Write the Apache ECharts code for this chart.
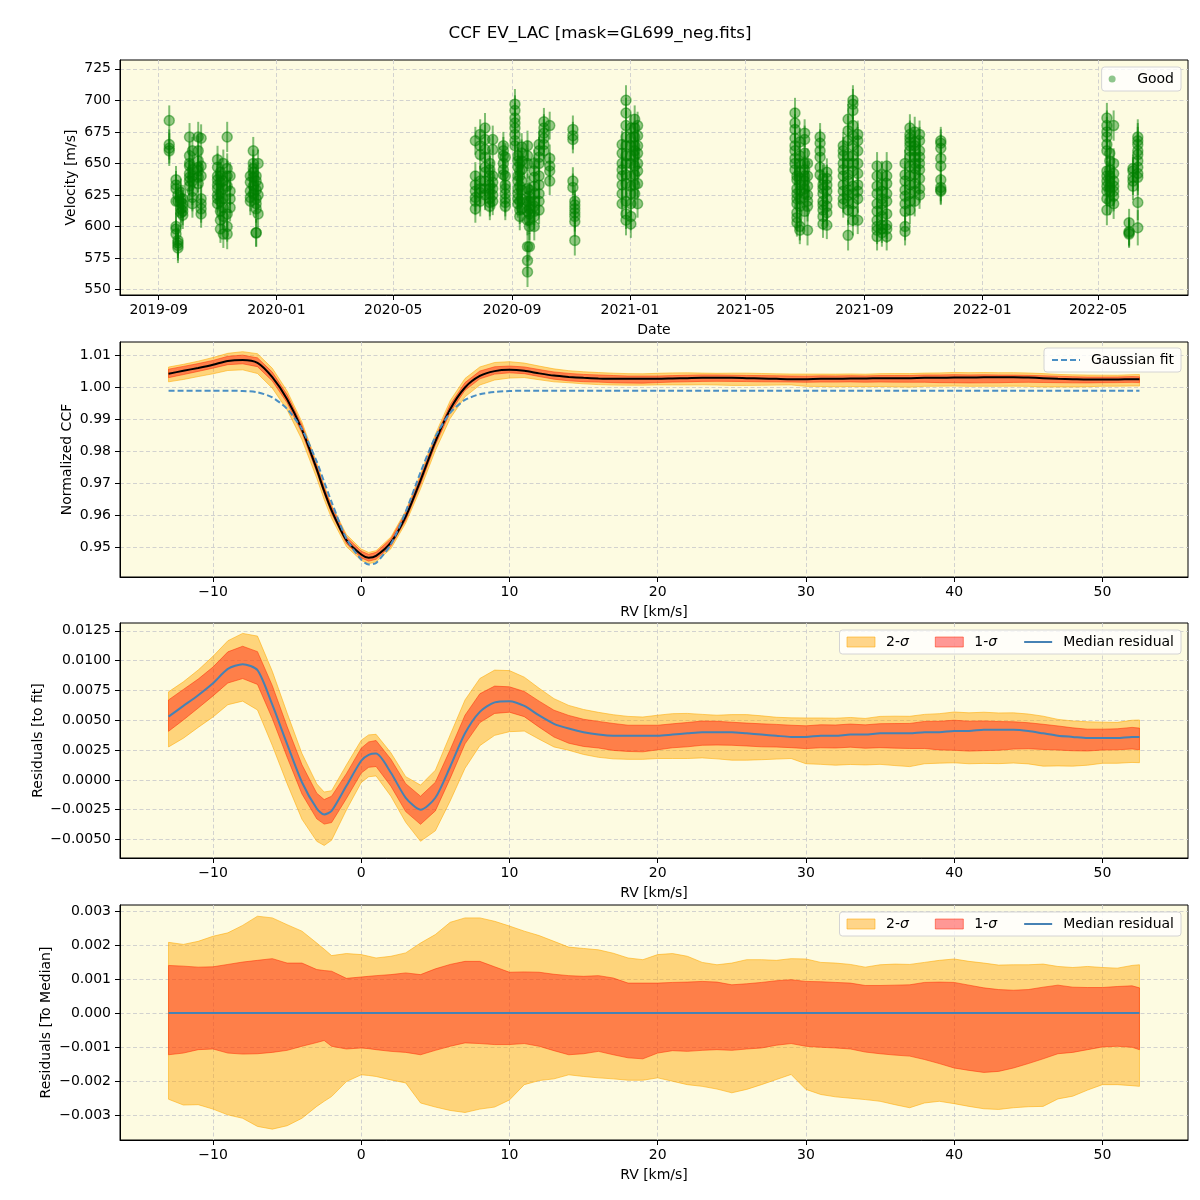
<!DOCTYPE html>
<html><head><meta charset="utf-8">
<script src="https://cdn.jsdelivr.net/npm/echarts@6/dist/echarts.min.js"></script>
<style>html,body{margin:0;padding:0;background:#fff}#c{width:1200px;height:1200px}</style>
</head><body><div id="c"></div>
<script>
// ---------- Panel 1: velocities per night ----------
const nightDates = [
 '2019-09-12','2019-09-19','2019-09-21','2019-09-24','2019-09-26','2019-10-03','2019-10-06','2019-10-12','2019-10-15',
 '2019-11-01','2019-11-04','2019-11-07','2019-11-11','2019-11-14','2019-12-05','2019-12-08','2019-12-11','2019-12-13',
 '2020-07-25','2020-07-30','2020-08-04','2020-08-09','2020-08-12','2020-08-23','2020-08-25','2020-09-04','2020-09-07',
 '2020-09-09','2020-09-11','2020-09-17','2020-09-19','2020-09-24','2020-09-29','2020-10-04','2020-10-10','2020-11-03',
 '2020-11-05','2020-12-24','2020-12-28','2021-01-02','2021-01-06','2021-01-09',
 '2021-06-21','2021-06-23','2021-06-26','2021-07-01','2021-07-04','2021-07-17','2021-07-20','2021-07-24','2021-08-10',
 '2021-08-15','2021-08-20','2021-08-25','2021-09-14','2021-09-19','2021-09-24','2021-10-13','2021-10-18','2021-10-23',
 '2021-10-28','2021-11-19',
 '2022-05-10','2022-05-13','2022-05-17','2022-06-02','2022-06-06','2022-06-11'
];
const nightVel = [
 [684,665,660,662],[637,630,620,600,594,598,633],[589,585,583,625,587,620],[627,619,614,622,611],[609,622,615,612,618],
 [656,671,648,639,632,642,636,650],[623,618,645,660,640,636,628],[671,660,647,639,644,652,634],[622,618,610,670,640,648,614],
 [653,647,637,630,625,618,633,640,622],[643,612,605,598,640,620,626,635],[594,630,622,650,615,608,636],[671,610,600,594,640,632,646],
 [640,628,615,622],[635,623,620,628,640],[660,650,643,639,632,646,626],[629,618,614,595,640,636,622,595],[650,625,610,632],
 [633,623,614,668,628,640,620],[657,673,630,620,664,627,636],[678,669,661,647,643,636,630,625,655],[633,626,619,616,640,630,622,645,650],
 [669,661,635,625,630,620,640],[664,660,650,641,656,645],[633,626,619,616,655,630,622,640],[697,692,686,678,673,664,668,682],
 [656,647,636,630,622,640,626,618,652],[613,608,650,640,620,632,644],[663,652,636,629,614,658,645,622],
 [664,656,650,584,573,564,620,612,605,630],[629,614,605,584,620,610,600,616,624],[626,616,608,600,644,639,632,612,620,650],
 [665,660,633,620,613,650,640,626,655],[683,678,674,660,670,665],[654,644,636,680,648],[677,669,636,631,672],
 [620,614,608,604,589,617,611],[665,650,633,618,640,645,626,658],[700,690,671,656,641,610,605,680,664,650,634,620],
 [678,664,650,626,602,670,656,640,632,618,608],[685,671,656,641,633,678,664,648,626,660],[680,664,650,618,672,658,644,634],
 [690,682,677,664,654,645,670,660,650],[637,630,622,611,603,640,626,618,607],[667,656,643,633,622,616,650,638,628,600,597],
 [674,669,658,640,630,650,645,636,626,612],[616,597,650,625,640,632,620],[671,660,647,641,666,655],[633,626,620,613,608,638,630,617,602],
 [643,633,622,601,611,638,628,616],[664,656,650,633,622,660,645,640,628,618],[685,676,641,629,613,593,668,656,650,636,620,625],
 [700,697,664,650,605,618,692,680,672,656,644,632,626,612],[673,660,633,622,605,668,650,642,628],[648,626,605,597,592,640,632,618,612,600],
 [641,633,618,613,601,628,622,608,598,595],[648,626,601,592,640,634,620,610,598],[650,641,629,618,600,596,636,624,612],
 [678,673,667,660,633,613,670,664,655,648,640,626,620],[667,660,650,641,620,675,664,655,646,634,628],[673,655,645,630,668,660,650,638,625],
 [668,654,648,637,629,666,662,631,628],
 [686,680,671,665,644,636,622,613,675,660,640,632,628],[658,631,628,640,636,645,652,620],[680,650,636,628,642,632,624,618],
 [603,594,596,595],[644,639,632,646,636],[671,665,657,647,639,619,599,660,668,652,642]
];
const nightErr = [
 12,11,12,11,11,11,11,12,11, 11,11,11,12,11,11,11,11,11,
 11,12,12,11,11,11,11,12,11, 11,11,12,11,11,11,11,11,11,
 12,11,12,11,11,11,
 12,11,11,11,12,11,11,11,11, 12,12,11,11,11,11,11,11,12,
 11,11,
 12,11,12,11,11,14
];
const dateTicks = ['2019-09-01','2020-01-01','2020-05-01','2020-09-01','2021-01-01','2021-05-01','2021-09-01','2022-01-01','2022-05-01'];
const velTicks = [550,575,600,625,650,675,700,725];

// ---------- Panels 2-4: CCF profile ----------
const rv = [-13,-12,-11,-10,-9,-8,-7,-6,-5,-4,-3,-2.5,-2,-1,0,0.5,1,2,3,4,5,6,7,8,9,10,11,12,13,14,15,16,17,18,19,20,21,22,23,24,25,26,27,28,29,30,31,32,33,34,35,36,37,38,39,40,41,42,43,44,45,46,47,48,49,50,51,52,52.5];
const gaussFit = [0.9990,0.9990,0.9990,0.9990,0.9990,0.9989,0.9985,0.9969,0.9933,0.9870,0.9768,0.9705,0.9642,0.9528,0.9462,0.9447,0.9452,0.9510,0.9612,0.9735,0.9846,0.9921,0.9961,0.9979,0.9986,0.9989,
 0.9990,0.9990,0.9990,0.9990,0.9990,0.9990,0.9990,0.9990,0.9990,0.9990,0.9990,0.9990,0.9990,0.9990,0.9990,0.9990,0.9990,0.9990,0.9990,0.9990,0.9990,0.9990,0.9990,0.9990,0.9990,0.9990,0.9990,0.9990,0.9990,0.9990,0.9990,0.9990,0.9990,0.9990,0.9990,0.9990,0.9990,0.9990,0.9990,0.9990,0.9990,0.9990,0.9990];
const residMedian = [0.0053,0.0062,0.0071,0.0081,0.0093,0.0097,0.0092,0.0063,0.0030,-0.0002,-0.0024,-0.0029,-0.0026,-0.0005,0.0016,0.0021,0.0022,0.0006,-0.0015,-0.0025,-0.0015,0.0011,0.0039,0.0057,0.0065,0.0066,
 0.0062,0.0054,0.0047,0.0043,0.0040,0.0038,0.0037,0.0037,0.0037,0.0037,0.0038,0.0039,0.0040,0.0040,0.0040,0.0039,0.0038,0.0037,0.0036,0.0036,0.0037,0.0037,0.0038,0.0038,0.0039,0.0039,0.0039,0.0040,0.0040,0.0041,0.0041,0.0042,0.0042,0.0042,0.0041,0.0039,0.0037,0.0036,0.0035,0.0035,0.0035,0.0036,0.0036];
// spread of the residuals around their median (panel 4)
const sig2Hi = [0.00208,0.00202,0.00211,0.00226,0.00236,0.00258,0.00285,0.0028,0.0026,0.00241,0.00206,0.00188,0.00169,0.00175,0.00172,0.00167,0.00162,0.00167,0.00177,0.00206,0.00231,0.00267,0.0028,0.0028,0.0027,0.00256,
 0.00241,0.00228,0.00211,0.00194,0.0019,0.00186,0.00176,0.00162,0.00157,0.00172,0.00175,0.00167,0.00149,0.00142,0.00147,0.00157,0.00157,0.00155,0.0016,0.00159,0.00149,0.00147,0.00143,0.00135,0.00142,0.00144,0.00143,0.00149,0.00155,0.00159,0.00152,0.00147,0.00141,0.00142,0.00142,0.00144,0.00137,0.00134,0.00137,0.00134,0.00132,0.0014,0.00142];
const sig1Hi = [0.0014,0.00138,0.00135,0.00136,0.00143,0.0015,0.00155,0.0016,0.00147,0.00147,0.00128,0.00125,0.00123,0.00102,0.00106,0.00108,0.0011,0.00113,0.00118,0.00113,0.0013,0.00143,0.00152,0.00152,0.00136,0.0012,
 0.00121,0.0012,0.00114,0.0011,0.00108,0.0011,0.00103,0.00088,0.00088,0.00088,0.0009,0.00091,0.00093,0.00091,0.00083,0.00086,0.0009,0.00095,0.00098,0.00093,0.00092,0.0009,0.00088,0.00081,0.00081,0.00082,0.00083,0.0009,0.00091,0.0009,0.00082,0.00074,0.00069,0.00067,0.00069,0.00076,0.00082,0.00076,0.00075,0.00075,0.00078,0.0008,0.00074];
const sig1Lo = [-0.00123,-0.00118,-0.00108,-0.00106,-0.00118,-0.00121,-0.0012,-0.00116,-0.0011,-0.00098,-0.00087,-0.00081,-0.00098,-0.00106,-0.00103,-0.00105,-0.00108,-0.00113,-0.00116,-0.00123,-0.0011,-0.00098,-0.00088,-0.0009,-0.00093,-0.00093,
 -0.0009,-0.00098,-0.00111,-0.00123,-0.0012,-0.00113,-0.00123,-0.00132,-0.00135,-0.00118,-0.00111,-0.00113,-0.0011,-0.00108,-0.0011,-0.00106,-0.00103,-0.00095,-0.0009,-0.00098,-0.00101,-0.00103,-0.00106,-0.00115,-0.0012,-0.00124,-0.00127,-0.00137,-0.00149,-0.00162,-0.00169,-0.00175,-0.00172,-0.00162,-0.00149,-0.00135,-0.0012,-0.00116,-0.00108,-0.001,-0.00098,-0.00101,-0.00108];
const sig2Lo = [-0.00254,-0.00271,-0.0027,-0.00283,-0.003,-0.0031,-0.00334,-0.00342,-0.00332,-0.0031,-0.00275,-0.0026,-0.00246,-0.00202,-0.00182,-0.00184,-0.00187,-0.00197,-0.00206,-0.00265,-0.00277,-0.00287,-0.00293,-0.00283,-0.00277,-0.00256,
 -0.00211,-0.00199,-0.00194,-0.00182,-0.00187,-0.00191,-0.00194,-0.00198,-0.00198,-0.00191,-0.00201,-0.00211,-0.00216,-0.00224,-0.00235,-0.00225,-0.00211,-0.00196,-0.00181,-0.00225,-0.0024,-0.00247,-0.00251,-0.00255,-0.0026,-0.0027,-0.00279,-0.00265,-0.0026,-0.00267,-0.00275,-0.00282,-0.00284,-0.00279,-0.00276,-0.00275,-0.00253,-0.00245,-0.00227,-0.00211,-0.00211,-0.00214,-0.00216];
const rvTicks = [-10,0,10,20,30,40,50];
const ccfTicks = [0.95,0.96,0.97,0.98,0.99,1.00,1.01];
const resTicks = [-0.005,-0.0025,0,0.0025,0.005,0.0075,0.01,0.0125];
const medTicks = [-0.003,-0.002,-0.001,0,0.001,0.002,0.003];

// ---------- derived ----------
function ts(s){const p=s.split('-').map(Number);return new Date(p[0],p[1]-1,p[2]).getTime();}
const obs=[]; nightDates.forEach((d,i)=>nightVel[i].forEach(v=>obs.push([ts(d),v,nightErr[i]])));
const dateTickTs = dateTicks.map(ts);
const ccfMedian = rv.map((x,i)=>gaussFit[i]+residMedian[i]);
const zeros = rv.map(()=>0);
const add=(base,off)=>base.map((b,i)=>b+off[i]);

const BG='#fdfbe1', FONT='DejaVu Sans';
const C2='rgba(255,165,0,0.45)', C2E='rgba(255,170,0,0.55)';
const C1='rgba(255,0,0,0.4)', C1E='rgba(255,40,0,0.5)';
const fmtMinus=s=>s.replace('-','\u2212');

function grid(top){return {left:120,top:top,width:1068,height:235,show:true,backgroundColor:BG,borderColor:'#000',borderWidth:1,containLabel:false,outerBoundsMode:'none'};}
const split={show:true,lineStyle:{color:'#cdcdcd',type:[4,2.5],width:0.9}};
function xVal(gi,name){return {type:'value',gridIndex:gi,min:-16.275,max:55.775,minInterval:10,maxInterval:10,
  name:name,nameLocation:'middle',nameGap:28,nameMoveOverlap:false,nameTextStyle:{fontSize:14,color:'#000',fontFamily:FONT},
  axisLine:{show:true,onZero:false,lineStyle:{color:'#000',width:1}},
  axisTick:{show:true,length:5,lineStyle:{color:'#000'},customValues:rvTicks},
  axisLabel:{fontSize:14,color:'#000',fontFamily:FONT,margin:8,customValues:rvTicks,formatter:v=>fmtMinus(String(Math.round(v)))},
  splitLine:split};}
function yVal(gi,min,max,step,ticks,dec,name,gap){return {type:'value',gridIndex:gi,min:min,max:max,minInterval:step,maxInterval:step,
  name:name,nameLocation:'middle',nameGap:gap,nameRotate:90,nameMoveOverlap:false,nameTextStyle:{fontSize:14,color:'#000',fontFamily:FONT},
  axisLine:{show:true,onZero:false,lineStyle:{color:'#000',width:1}},
  axisTick:{show:true,length:5,lineStyle:{color:'#000'},customValues:ticks},
  axisLabel:{fontSize:14,color:'#000',fontFamily:FONT,margin:9,customValues:ticks,formatter:v=>fmtMinus(Number(v).toFixed(dec))},
  splitLine:split};}

function band(name,gi,lo,hi,fill,stroke){return {type:'custom',name:name,xAxisIndex:gi,yAxisIndex:gi,data:[0],silent:true,z:1,
  itemStyle:{color:fill},
  renderItem:(params,api)=>{const pts=[];for(let i=0;i<rv.length;i++)pts.push(api.coord([rv[i],hi[i]]));
    for(let i=rv.length-1;i>=0;i--)pts.push(api.coord([rv[i],lo[i]]));
    return {type:'polygon',shape:{points:pts},style:{fill:fill,stroke:stroke,lineWidth:1}};}};}
function line(name,gi,ys,color,width,type,z){return {type:'line',name:name,xAxisIndex:gi,yAxisIndex:gi,data:rv.map((x,i)=>[x,ys[i]]),
  showSymbol:false,symbol:'none',smooth:0.25,z:z||3,lineStyle:{color:color,width:width,type:type||'solid'},itemStyle:{color:color}};}

const legendBase={orient:'horizontal',backgroundColor:'rgba(255,255,255,0.8)',borderColor:'#d4d4d4',borderWidth:1,borderRadius:3,
  padding:[5,7],itemWidth:28,itemHeight:10,itemGap:26,textStyle:{fontSize:14,color:'#000',fontFamily:FONT,padding:[0,0,0,6],
  rich:{i:{fontStyle:'italic',fontSize:14,fontFamily:FONT,color:'#000'}}},formatter:n=>n.replace('\u03c3','{i|\u03c3}'),selectedMode:false};
const sigLegendData=[{name:'2-\u03c3',icon:'rect',itemStyle:{color:'rgba(255,165,0,0.45)',borderColor:C2E,borderWidth:1}},
  {name:'1-\u03c3',icon:'rect',itemStyle:{color:'rgba(255,0,0,0.4)',borderColor:C1E,borderWidth:1}},
  {name:'Median residual',itemStyle:{opacity:0}}];

const option={
 animation:false,backgroundColor:'#fff',textStyle:{fontFamily:FONT},
 title:{text:'CCF EV_LAC [mask=GL699_neg.fits]',left:'center',top:20,textStyle:{fontSize:16.7,fontWeight:'normal',color:'#000',fontFamily:FONT}},
 grid:[grid(60),grid(342),grid(623),grid(905)],
 legend:[
  Object.assign({},legendBase,{right:19,top:67,itemWidth:28,itemHeight:7,data:[{name:'Good',icon:'circle',itemStyle:{color:'rgba(0,128,0,0.55)',borderWidth:0}}]}),
  Object.assign({},legendBase,{right:19,top:348,data:[{name:'Gaussian fit',itemStyle:{opacity:0}}]}),
  Object.assign({},legendBase,{right:19,top:630,data:sigLegendData}),
  Object.assign({},legendBase,{right:19,top:912,data:sigLegendData})
 ],
 xAxis:[
  {type:'value',gridIndex:0,min:ts('2019-07-23'),max:ts('2022-08-02'),
   name:'Date',nameLocation:'middle',nameGap:28,nameMoveOverlap:false,nameTextStyle:{fontSize:14,color:'#000',fontFamily:FONT},
   axisLine:{show:true,onZero:false,lineStyle:{color:'#000'}},
   axisTick:{show:true,length:5,lineStyle:{color:'#000'},customValues:dateTickTs},
   axisLabel:{fontSize:14,color:'#000',fontFamily:FONT,margin:8,customValues:dateTickTs,
     formatter:v=>{const d=new Date(v);return d.getFullYear()+'-'+String(d.getMonth()+1).padStart(2,'0');}},
   splitLine:Object.assign({},split,{customValues:dateTickTs})},
  xVal(1,'RV [km/s]'),xVal(2,'RV [km/s]'),xVal(3,'RV [km/s]')
 ],
 yAxis:[
  yVal(0,545.7,732,25,velTicks,0,'Velocity [m/s]',42),
  yVal(1,0.9408,1.0142,0.01,ccfTicks,2,'Normalized CCF',46),
  yVal(2,-0.00655,0.01315,0.0025,resTicks,4,'Residuals [to fit]',75),
  yVal(3,-0.00374,0.00318,0.001,medTicks,3,'Residuals [To Median]',67)
 ],
 series:[
  {type:'custom',name:'errbar',xAxisIndex:0,yAxisIndex:0,data:obs,encode:{x:0,y:1},z:2,silent:true,
   renderItem:(params,api)=>{const x=api.value(0),y=api.value(1),e=api.value(2);
     const a=api.coord([x,y-e]),b=api.coord([x,y+e]);
     return {type:'line',shape:{x1:a[0],y1:a[1],x2:b[0],y2:b[1]},style:{stroke:'rgba(0,128,0,0.5)',lineWidth:2}};}},
  {type:'scatter',name:'Good',xAxisIndex:0,yAxisIndex:0,data:obs.map(o=>[o[0],o[1]]),symbol:'circle',symbolSize:10,z:3,
   itemStyle:{color:'rgba(0,128,0,0.52)',borderColor:'rgba(0,128,0,0.6)',borderWidth:1.5}},
  band('2s',1,add(ccfMedian,sig2Lo),add(ccfMedian,sig2Hi),C2,C2E),
  band('1s',1,add(ccfMedian,sig1Lo),add(ccfMedian,sig1Hi),C1,C1E),
  line('CCF median',1,ccfMedian,'#000',2,'solid',3),
  line('Gaussian fit',1,gaussFit,'#4a8fc4',2,[6,3],4),
  band('2-\u03c3',2,add(residMedian,sig2Lo),add(residMedian,sig2Hi),C2,C2E),
  band('1-\u03c3',2,add(residMedian,sig1Lo),add(residMedian,sig1Hi),C1,C1E),
  line('Median residual',2,residMedian,'#4682b4',2,'solid',3),
  band('2-\u03c3',3,sig2Lo,sig2Hi,C2,C2E),
  band('1-\u03c3',3,sig1Lo,sig1Hi,C1,C1E),
  line('Median residual',3,zeros,'#4682b4',2,'solid',3)
 ]
};
const chart=echarts.init(document.getElementById('c'),null,{renderer:'canvas',width:1200,height:1200});
chart.setOption(option);
</script></body></html>
